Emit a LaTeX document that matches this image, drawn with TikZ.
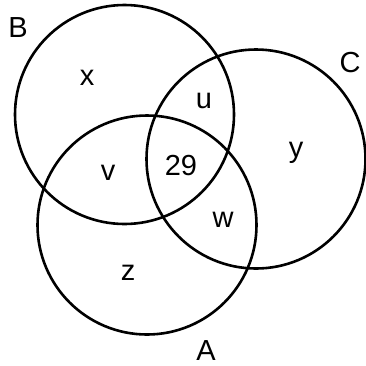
\documentclass[tikz,border=0pt]{standalone}
\usepackage{fontspec}
\setmainfont{Liberation Sans}
\begin{document}
\begin{tikzpicture}[x=1pt,y=-1pt,
  setcircle/.style={circle,draw=black,line width=2.6pt,minimum size=219pt,inner sep=0pt},
  lbl/.style={anchor=base,inner sep=0pt,font=\fontsize{29}{30}\selectfont}]
\useasboundingbox (0,0) rectangle (366,365);
\fill[white] (0,0) rectangle (366,365);
\node[setcircle] (cB) at (124.5,114.5) {};
\node[setcircle] (cC) at (256,159) {};
\node[setcircle] (cA) at (147,225) {};
\node[lbl] (tB) at (18,37) {B};
\node[lbl] (tC) at (350,72) {C};
\node[lbl] (tA) at (206,360) {A};
\node[lbl] (tx) at (87,85) {x};
\node[lbl] (tu) at (204,108) {u};
\node[lbl] (ty) at (296,157) {y};
\node[lbl] (tv) at (108,180) {v};
\node[lbl] (t29) at (181,175) {29};
\node[lbl] (tw) at (223,227) {w};
\node[lbl] (tz) at (128,280) {z};
\end{tikzpicture}
\end{document}
